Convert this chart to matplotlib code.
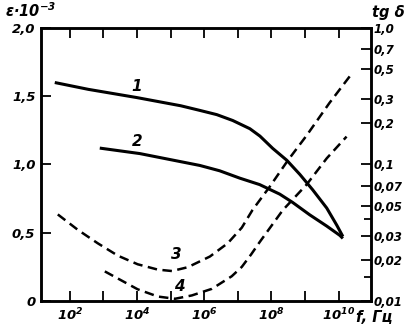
import numpy as np
import matplotlib
matplotlib.use("Agg")
import matplotlib.pyplot as plt
from matplotlib.ticker import FixedLocator, FixedFormatter, NullLocator, NullFormatter

# ---- data (log10 of frequency, values) ----
c1_logf = [1.55, 2.55, 3.99, 5.3, 5.87, 6.375, 6.85, 7.36, 7.66, 8.04, 8.46, 8.85, 9.23, 9.65, 9.95, 10.13]
c1_eps = [1.60, 1.55, 1.49, 1.43, 1.396, 1.365, 1.322, 1.262, 1.208, 1.118, 1.031, 0.927, 0.815, 0.681, 0.555, 0.473]

c2_logf = [2.89, 4.08, 5.87, 6.46, 7.06, 7.65, 8.25, 8.63, 9.14, 9.65, 10.04, 10.13]
c2_eps = [1.12, 1.08, 0.993, 0.954, 0.900, 0.853, 0.783, 0.723, 0.632, 0.549, 0.481, 0.459]

c3_logf = [1.64, 2.24, 2.83, 3.43, 4.02, 4.62, 5.04, 5.51, 6.17, 6.70, 7.12, 7.44, 7.95, 8.49, 9.05, 9.73, 10.42]
c3_tg = [0.0431, 0.0332, 0.0265, 0.0215, 0.0186, 0.0170, 0.0166, 0.0177, 0.0212, 0.0265, 0.0345, 0.0465, 0.0687, 0.107, 0.163, 0.282, 0.471]

c4_logf = [3.04, 3.55, 4.02, 4.62, 5.13, 5.63, 6.23, 6.82, 7.12, 7.40, 7.65, 8.34, 9.05, 9.65, 10.24]
c4_tg = [0.0165, 0.0141, 0.0122, 0.0108, 0.0104, 0.0110, 0.0123, 0.0152, 0.0178, 0.0220, 0.0270, 0.0463, 0.0713, 0.111, 0.160]

left_ticks = [0, 0.5, 1.0, 1.5, 2.0]
left_labels = ["0", "0,5", "1,0", "1,5", "2,0"]
right_ticks = [0.01, 0.02, 0.03, 0.05, 0.07, 0.1, 0.2, 0.3, 0.5, 0.7, 1.0]
right_labels = ["0,01", "0,02", "0,03", "0,05", "0,07", "0,1", "0,2", "0,3", "0,5", "0,7", "1,0"]
x_major_exp = [2, 4, 6, 8, 10]
x_major_labels = [r"$10^{2}$", r"$10^{4}$", r"$10^{6}$", r"$10^{8}$", r"$10^{10}$"]
x_minor_exp = [3, 5, 7, 9]

plt.rcParams["mathtext.fontset"] = "custom"
plt.rcParams["mathtext.rm"] = "DejaVu Sans:italic:bold"
plt.rcParams["mathtext.it"] = "DejaVu Sans:italic:bold"
plt.rcParams["mathtext.bf"] = "DejaVu Sans:italic:bold"
plt.rcParams["mathtext.default"] = "rm"

FONT = dict(family=["DejaVu Sans"], style="italic", weight="bold")

fig = plt.figure(figsize=(4.08, 3.28), dpi=100)
ax = fig.add_axes([0.1005, 0.082, 0.809, 0.833])
ax2 = ax.twinx()

def lf(v):
    return [10 ** e for e in v]

lw_spine = 1.8
for a in (ax, ax2):
    for s in a.spines.values():
        s.set_linewidth(lw_spine)

ax.set_xscale("log")
ax.set_xlim(10 ** 1.14, 10 ** 10.97)
ax.set_ylim(0, 2.0)
ax2.set_yscale("log")
ax2.set_ylim(0.01, 1.0)

ax.plot(lf(c1_logf), c1_eps, color="black", lw=2.2, solid_capstyle="butt", solid_joinstyle="round")
ax.plot(lf(c2_logf), c2_eps, color="black", lw=2.2, solid_capstyle="butt", solid_joinstyle="round")
ax2.plot(lf(c3_logf), c3_tg, color="black", lw=1.8, dashes=(3.8, 2.2))
ax2.plot(lf(c4_logf), c4_tg, color="black", lw=1.8, dashes=(3.8, 2.2))

# curve labels
ax.text(10 ** 3.99, 1.57, "1", ha="center", va="center", fontsize=11, **FONT)
ax.text(10 ** 3.99, 1.17, "2", ha="center", va="center", fontsize=11, **FONT)
ax.text(10 ** 5.18, 0.34, "3", ha="center", va="center", fontsize=11, **FONT)
ax.text(10 ** 5.27, 0.11, "4", ha="center", va="center", fontsize=11, **FONT)

# x ticks
ax.xaxis.set_major_locator(FixedLocator([10 ** e for e in x_major_exp]))
ax.xaxis.set_major_formatter(FixedFormatter(x_major_labels))
ax.xaxis.set_minor_locator(FixedLocator([10 ** e for e in x_minor_exp]))
ax.xaxis.set_minor_formatter(NullFormatter())
ax.tick_params(axis="x", which="both", direction="in", length=7, width=1.3,
               top=True, pad=4, labelsize=9.5)
# left ticks
ax.yaxis.set_major_locator(FixedLocator(left_ticks))
ax.yaxis.set_major_formatter(FixedFormatter(left_labels))
ax.yaxis.set_minor_locator(NullLocator())
ax.tick_params(axis="y", which="both", direction="in", length=7, width=1.3, pad=4, labelsize=9.5)
# right ticks
ax2.yaxis.set_major_locator(FixedLocator(right_ticks))
ax2.yaxis.set_major_formatter(FixedFormatter(right_labels))
ax2.yaxis.set_minor_locator(FixedLocator([0.015, 0.04]))
ax2.yaxis.set_minor_formatter(NullFormatter())
ax2.tick_params(axis="y", which="major", direction="in", length=7, width=1.3, pad=1.5, labelsize=8.5)
ax2.tick_params(axis="y", which="minor", direction="in", length=5, width=1.3)

for lab in ax.get_xticklabels() + ax.get_yticklabels() + ax2.get_yticklabels():
    lab.set_family(FONT["family"])
    lab.set_style("italic")
    lab.set_weight("bold")

fig.text(0.012, 0.968, r"ε·$10^{-3}$", fontsize=10.5, ha="left", va="center", **FONT)
fig.text(0.912, 0.962, "tg δ", fontsize=10.5, ha="left", va="center", **FONT)
fig.text(0.872, 0.032, "f, Гц", fontsize=10.5, ha="left", va="center", **FONT)

fig.savefig("out.png", dpi=100)
